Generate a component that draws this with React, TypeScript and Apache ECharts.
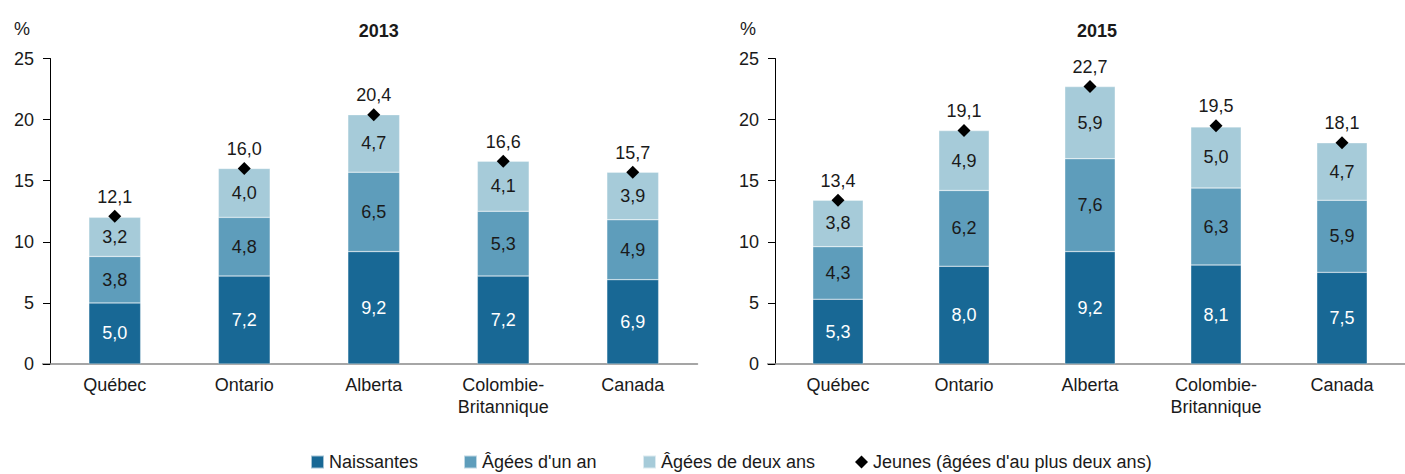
import React, { useEffect, useRef } from "react";
import * as echarts from "echarts";

const categories = ["Québec", "Ontario", "Alberta", "Colombie-\nBritannique", "Canada"];
const years = ["2013", "2015"];
const naissantes2013 = [5.0, 7.2, 9.2, 7.2, 6.9];
const unAn2013 = [3.8, 4.8, 6.5, 5.3, 4.9];
const deuxAns2013 = [3.2, 4.0, 4.7, 4.1, 3.9];
const jeunes2013 = [12.1, 16.0, 20.4, 16.6, 15.7];
const naissantes2015 = [5.3, 8.0, 9.2, 8.1, 7.5];
const unAn2015 = [4.3, 6.2, 7.6, 6.3, 5.9];
const deuxAns2015 = [3.8, 4.9, 5.9, 5.0, 4.7];
const jeunes2015 = [13.4, 19.1, 22.7, 19.5, 18.1];
const yTicks = [0, 5, 10, 15, 20, 25];
const seriesNames = ["Naissantes", "Âgées d'un an", "Âgées de deux ans", "Jeunes (âgées d'au plus deux ans)"];

const FONT = '"Liberation Sans Narrow", "Liberation Sans", "DejaVu Sans", sans-serif';
const FS = 18;
const COLORS = ["#186895", "#5e9dbb", "#a6cbd9"];
const fmt = (v: number) => v.toFixed(1).replace(".", ",");

export default function App() {
  const ref = useRef<HTMLDivElement>(null);
  useEffect(() => {
    if (!ref.current) return;
    const chart = echarts.init(ref.current, null, { renderer: "svg" });
    const grids = [
      { left: 50, top: 58.5, width: 647.5, height: 305.5 },
      { left: 775, top: 58.5, width: 638, height: 305.5 },
    ];
    const stacks = [
      [naissantes2013, unAn2013, deuxAns2013, jeunes2013],
      [naissantes2015, unAn2015, deuxAns2015, jeunes2015],
    ];
    const series: any[] = [];
    stacks.forEach((s, gi) => {
      for (let k = 0; k < 3; k++) {
        series.push({
          name: seriesNames[k],
          type: "bar",
          xAxisIndex: gi,
          yAxisIndex: gi,
          stack: "s" + gi,
          barWidth: "40%",
          data: s[k],
          itemStyle: { color: COLORS[k], borderColor: "rgba(255,255,255,0.6)", borderWidth: 0.5 },
          label: {
            show: true,
            position: "inside",
            formatter: (p: any) => fmt(p.value),
            color: k === 0 ? "#ffffff" : "#1a1a1a",
            fontSize: FS,
            fontFamily: FONT,
          },
        });
      }
      series.push({
        name: seriesNames[3],
        type: "scatter",
        xAxisIndex: gi,
        yAxisIndex: gi,
        symbol: "diamond",
        symbolSize: 13,
        data: s[3],
        itemStyle: { color: "#000000", opacity: 1 },
        z: 5,
        label: {
          show: true,
          position: "top",
          distance: 4,
          formatter: (p: any) => fmt(p.value),
          color: "#1a1a1a",
          opacity: 1,
          fontSize: FS,
          fontFamily: FONT,
        },
      });
    });
    const legendLefts = [305, 458, 637, 850];
    chart.setOption({
      animation: false,
      textStyle: { fontFamily: FONT },
      title: years.map((y, i) => ({
        text: y,
        left: grids[i].left + grids[i].width / 2 - (i === 1 ? 2 : 0),
        top: 17,
        textAlign: "center",
        textStyle: { fontSize: FS, fontWeight: "bold", color: "#1a1a1a", fontFamily: FONT },
      })),
      grid: grids,
      legend: seriesNames.map((n, i) => ({
        left: legendLefts[i],
        top: 448,
        itemWidth: 13,
        itemHeight: 13,
        itemGap: 6,
        textStyle: { fontSize: FS, color: "#1a1a1a", fontFamily: FONT },
        data: [{ name: n, icon: i === 3 ? "diamond" : "rect", itemStyle: i === 3 ? { color: "#000", opacity: 1 } : undefined }],
      })),
      xAxis: grids.map((_, i) => ({
        type: "category",
        gridIndex: i,
        data: categories,
        axisLine: { lineStyle: { color: "#888888", width: 1.5 } },
        axisTick: { length: 7, lineStyle: { color: "#333333" } },
        axisLabel: { interval: 0, fontSize: FS, color: "#1a1a1a", lineHeight: 22, margin: 10, fontFamily: FONT },
      })),
      yAxis: grids.map((_, i) => ({
        type: "value",
        gridIndex: i,
        min: 0,
        max: 25,
        interval: 5,
        splitLine: { show: false },
        axisLine: { show: true, lineStyle: { color: "#000000" } },
        axisTick: { show: true, length: 7, lineStyle: { color: "#000000" } },
        axisLabel: {
          fontSize: FS,
          color: "#1a1a1a",
          margin: 16,
          fontFamily: FONT,
          formatter: (v: number) => (yTicks.includes(v) ? String(v) : ""),
        },
      })),
      graphic: [
        { type: "text", left: 14, top: 20, style: { text: "%", fill: "#1a1a1a", font: FS + "px " + FONT } },
        { type: "text", left: 740, top: 20, style: { text: "%", fill: "#1a1a1a", font: FS + "px " + FONT } },
        { type: "line", shape: { x1: 42, y1: 364, x2: 50, y2: 364 }, style: { stroke: "#888888", lineWidth: 1.5 } },
        { type: "line", shape: { x1: 767, y1: 364, x2: 775, y2: 364 }, style: { stroke: "#888888", lineWidth: 1.5 } },
      ],
      series,
    });
    return () => chart.dispose();
  }, []);
  return <div ref={ref} style={{ position: "absolute", left: 0, top: 0, width: 1405, height: 474 }} />;
}
